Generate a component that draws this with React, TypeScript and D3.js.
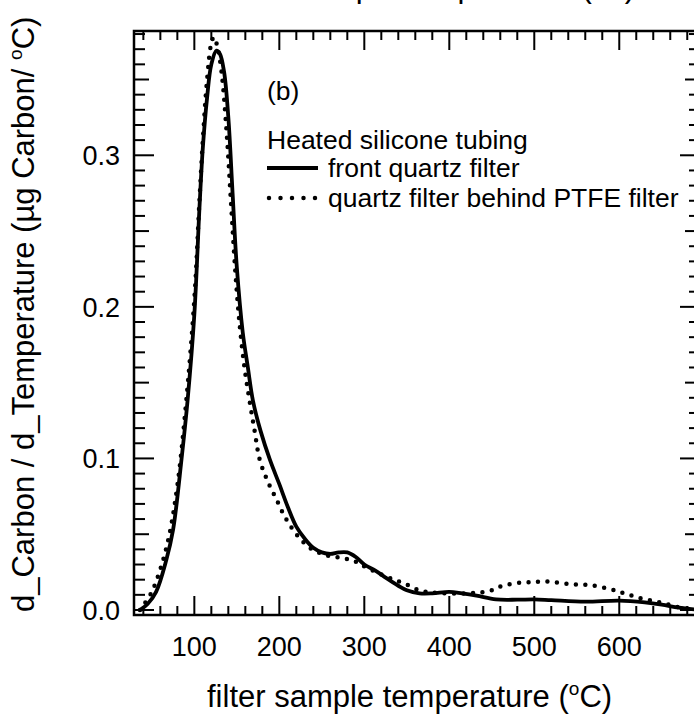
import * as d3 from "d3";

// temperature (C) and d_Carbon/d_Temperature
const frontT = [36, 45, 55, 67, 75, 85, 92, 100, 106, 110, 115, 120, 126, 130, 135, 140, 145, 150, 157, 163, 169, 178, 189, 200, 210, 220, 230, 240, 250, 260, 270, 280, 290, 300, 313, 326, 340, 350, 365, 380, 400, 415, 432, 455, 480, 500, 520, 560, 600, 630, 650, 670, 690];
const frontV = [0, 0.004, 0.012, 0.033, 0.053, 0.1, 0.138, 0.195, 0.265, 0.305, 0.338, 0.36, 0.369, 0.367, 0.355, 0.325, 0.275, 0.226, 0.183, 0.16, 0.138, 0.118, 0.099, 0.083, 0.068, 0.055, 0.047, 0.041, 0.038, 0.037, 0.038, 0.038, 0.035, 0.03, 0.026, 0.021, 0.016, 0.013, 0.011, 0.011, 0.012, 0.011, 0.0095, 0.007, 0.0068, 0.007, 0.0065, 0.0055, 0.0062, 0.005, 0.0035, 0.0015, 0.0003];

const behindT = [36, 40, 50, 60, 70, 80, 90, 100, 106, 110, 115, 120, 123, 127, 132, 138, 143, 148, 153, 159, 165, 171, 177, 187, 197, 206, 216, 226, 236, 246, 256, 266, 276, 286, 296, 310, 326, 340, 351, 365, 380, 400, 420, 435, 450, 463, 483, 500, 518, 542, 565, 589, 600, 612, 624, 640, 655, 670, 690];
const behindV = [0, 0.003, 0.012, 0.027, 0.048, 0.082, 0.135, 0.205, 0.27, 0.31, 0.35, 0.374, 0.378, 0.372, 0.355, 0.315, 0.27, 0.225, 0.19, 0.16, 0.138, 0.118, 0.099, 0.084, 0.0725, 0.062, 0.053, 0.046, 0.041, 0.038, 0.036, 0.035, 0.034, 0.033, 0.03, 0.026, 0.022, 0.019, 0.0165, 0.013, 0.0115, 0.011, 0.011, 0.0115, 0.013, 0.016, 0.018, 0.0185, 0.0187, 0.017, 0.0165, 0.0138, 0.012, 0.0099, 0.0079, 0.006, 0.004, 0.0018, 0.0003];

const xTickLabels = [100, 200, 300, 400, 500, 600];
const yTickLabels = ["0.0", "0.1", "0.2", "0.3"];
const legendTitle = "Heated silicone tubing";
const seriesNames = ["front quartz filter", "quartz filter behind PTFE filter"];

const font = "'Liberation Sans', Arial, sans-serif";

const App = () => {
  const width = 694,
    height = 717,
    left = 134,
    right = 700,
    top = 31,
    bottom = 615;

  const x = d3.scaleLinear([29, 695], [left, right]);
  const y = d3.scaleLinear([-0.0033, 0.382], [bottom, top]);

  const line = d3
    .line<[number, number]>()
    .x((d) => x(d[0]))
    .y((d) => y(d[1]))
    .curve(d3.curveCatmullRom.alpha(0.5));

  const front = frontT.map((t, i) => [t, frontV[i]] as [number, number]);
  const behind = behindT.map((t, i) => [t, behindV[i]] as [number, number]);

  const xTicks = d3.range(40, 695, 20);
  const yTicks = d3.range(0, 39);

  return (
    <svg
      width={width}
      height={height}
      style={{ position: "absolute", left: 0, top: 0, background: "#fff" }}
      fontFamily={font}
    >
      <defs>
        <clipPath id="plot">
          <rect x={left} y={top} width={right - left} height={bottom - top} />
        </clipPath>
      </defs>

      {/* ticks */}
      <g stroke="#000" strokeWidth={2}>
        {xTicks.map((t) => {
          const len = t % 100 === 0 ? 19 : 9;
          return (
            <g key={t}>
              <line x1={x(t)} x2={x(t)} y1={bottom} y2={bottom - len} />
              <line x1={x(t)} x2={x(t)} y1={top} y2={top + len} />
            </g>
          );
        })}
        {yTicks.map((i) => {
          const len = i % 10 === 0 ? 20 : i % 5 === 0 ? 15 : 11;
          const v = i / 100;
          return (
            <g key={i}>
              <line x1={left} x2={left + len} y1={y(v)} y2={y(v)} />
              <line x1={right} x2={right - len} y1={y(v)} y2={y(v)} />
            </g>
          );
        })}
      </g>

      {/* frame */}
      <rect
        x={left}
        y={top}
        width={right - left}
        height={bottom - top}
        fill="none"
        stroke="#000"
        strokeWidth={2.5}
      />

      {/* tick labels */}
      <g fontSize={27} fill="#000">
        {xTickLabels.map((t) => (
          <text key={t} x={x(t)} y={656} textAnchor="middle">
            {t}
          </text>
        ))}
        {yTickLabels.map((s) => (
          <text key={s} x={120} y={y(+s)} dy="0.36em" textAnchor="end">
            {s}
          </text>
        ))}
      </g>

      {/* curves */}
      <g clipPath="url(#plot)" fill="none" stroke="#000">
        <path d={line(front) ?? ""} strokeWidth={3.8} strokeLinejoin="round" />
        <path
          d={line(behind) ?? ""}
          strokeWidth={4.5}
          strokeLinecap="round"
          strokeDasharray="0 9.5"
        />
      </g>

      {/* panel label + legend */}
      <g fontSize={26.5} fill="#000">
        <text x={267} y={100}>(b)</text>
        <text x={267} y={149}>{legendTitle}</text>
        <line x1={267} x2={318} y1={168} y2={168} stroke="#000" strokeWidth={3.8} />
        <text x={328} y={177}>{seriesNames[0]}</text>
        <line
          x1={269}
          x2={318}
          y1={198}
          y2={198}
          stroke="#000"
          strokeWidth={4.5}
          strokeLinecap="round"
          strokeDasharray="0 11.5"
        />
        <text x={328} y={207}>{seriesNames[1]}</text>
      </g>

      {/* axis titles */}
      <text x={207} y={707} fontSize={31}>
        filter sample temperature (<tspan dy={-12} fontSize={19}>o</tspan>
        <tspan dy={12}>C)</tspan>
      </text>
      {/* title of the panel above, only its lowest pixels show */}
      <text x={230} y={-3} fontSize={31}>
        filter sample temperature (<tspan dy={-12} fontSize={19}>o</tspan>
        <tspan dy={12}>C)</tspan>
      </text>
      <text transform="translate(34, 612) rotate(-90)" fontSize={31}>
        d_Carbon / d_Temperature (µg Carbon/ <tspan dy={-12} fontSize={19}>o</tspan>
        <tspan dy={12}>C)</tspan>
      </text>
    </svg>
  );
};

export default App;
